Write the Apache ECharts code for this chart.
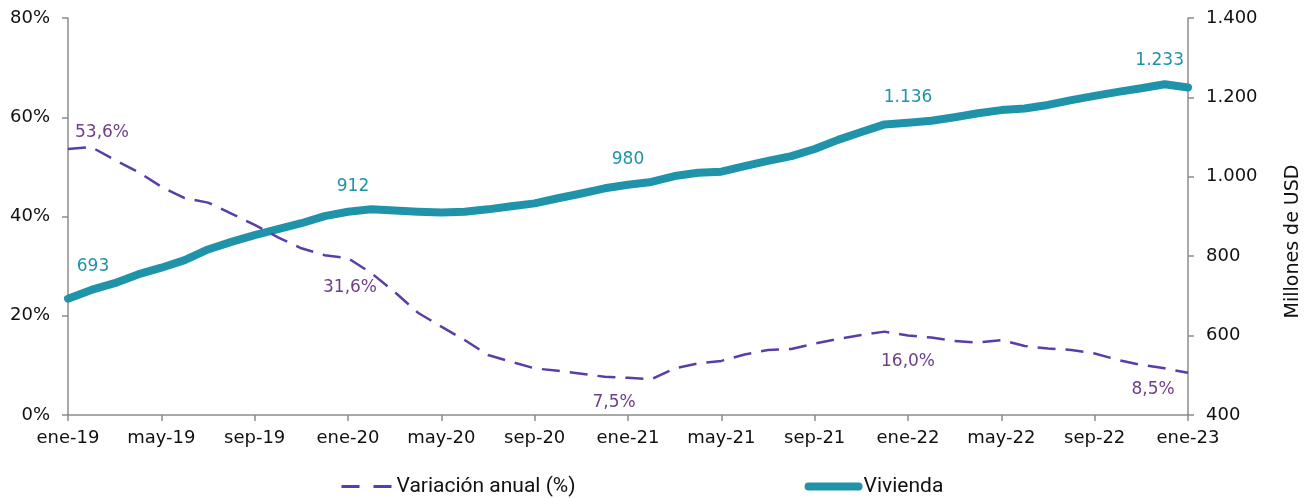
<!DOCTYPE html>
<html>
<head>
<meta charset="utf-8">
<script src="https://cdn.jsdelivr.net/npm/echarts@6/dist/echarts.min.js"></script>
<style>
  html, body { margin: 0; padding: 0; background: #fff; }
  #chart { width: 1316px; height: 498px; }
</style>
</head>
<body>
<div id="chart"></div>
<script>
// Months from ene-19 to ene-23
const monthNames = ['ene','feb','mar','abr','may','jun','jul','ago','sep','oct','nov','dic'];
const categories = [];
for (let y = 19; y <= 23; y++) {
  for (let m = 0; m < 12; m++) {
    if (y === 23 && m > 0) break;
    categories.push(monthNames[m] + '-' + y);
  }
}

// Vivienda, millones de USD (right axis)
const vivienda = [
  693, 715, 732, 754, 771, 790, 817, 836, 853, 868, 883, 901,
  912, 918, 915, 912, 910, 912, 918, 926, 933, 946, 958, 971,
  980, 987, 1002, 1010, 1013, 1027, 1040, 1052, 1070, 1093, 1113, 1132,
  1136, 1141, 1150, 1160, 1168, 1172, 1181, 1193, 1204, 1214, 1223, 1233,
  1225
];

// Variación anual, % (left axis)
const variacion = [
  53.6, 54.0, 51.4, 49.0, 46.0, 43.7, 42.8, 40.6, 38.3, 35.8, 33.6, 32.2,
  31.6, 28.6, 24.8, 20.6, 17.8, 15.1, 12.1, 10.7, 9.4, 8.9, 8.3, 7.7,
  7.5, 7.2, 9.4, 10.4, 10.9, 12.2, 13.1, 13.3, 14.4, 15.3, 16.1, 16.8,
  16.0, 15.6, 14.9, 14.6, 15.1, 13.9, 13.4, 13.1, 12.4, 11.1, 10.1, 9.4,
  8.5
];

// Points that carry a value label
const viviendaLabeled = [0, 12, 24, 36, 47];
const variacionLabeled = [0, 12, 24, 36, 48];

// Label offsets (px) relative to the point
const viviendaOffsets = { 0: [25, -32], 12: [5, -25], 24: [0, -25], 36: [0, -25], 47: [-5, -24] };
const variacionOffsets = { 0: [34, -16], 12: [2, 29], 24: [-14, 25], 36: [0, 26], 48: [-35, 17] };

const TEAL = '#1e93a9';
const PURPLE = '#5a3da6';
const PURPLE_TEXT = '#6e3f88';
const AXIS_GRAY = '#8c8c8c';
const FONT = '"DejaVu Sans", sans-serif';

function fmtThousands(v) {
  return String(Math.round(v)).replace(/\B(?=(\d{3})+(?!\d))/g, '.');
}
function fmtPct(v) {
  return v.toFixed(1).replace('.', ',') + '%';
}

function buildData(values, labeled, offsets, color, fmt) {
  return values.map((v, i) => {
    if (labeled.indexOf(i) === -1) return v;
    return {
      value: v,
      label: {
        show: true,
        position: 'inside',
        offset: offsets[i],
        align: 'center',
        verticalAlign: 'middle',
        color: color,
        fontFamily: FONT,
        fontSize: 17,
        formatter: () => fmt(v)
      }
    };
  });
}

const chart = echarts.init(document.getElementById('chart'), null, { renderer: 'canvas' });

chart.setOption({
  animation: false,
  backgroundColor: '#ffffff',
  grid: { left: 68, right: 128, top: 18, bottom: 83, containLabel: false },
  legend: {
    bottom: 1,
    left: 340,
    padding: 0,
    itemWidth: 50,
    itemHeight: 10,
    itemGap: 229,
    textStyle: { fontFamily: 'Roboto, sans-serif', fontSize: 21, color: '#111' },
    data: [
      { name: 'Variación anual (%)', itemStyle: { color: PURPLE, opacity: 0 }, lineStyle: { color: PURPLE, width: 3, type: [18, 14] } },
      { name: 'Vivienda', itemStyle: { color: TEAL, opacity: 0 }, lineStyle: { color: TEAL, width: 8, cap: 'round' } }
    ]
  },
  xAxis: {
    type: 'category',
    data: categories,
    boundaryGap: false,
    axisLine: { lineStyle: { color: AXIS_GRAY, width: 1.5 } },
    axisTick: { interval: 3, length: 6, lineStyle: { color: AXIS_GRAY, width: 1.5 } },
    axisLabel: { interval: 3, margin: 14, color: '#111', fontFamily: FONT, fontSize: 18 },
    splitLine: { show: false }
  },
  yAxis: [
    {
      type: 'value',
      min: 0, max: 80, interval: 20,
      axisLine: { show: true, lineStyle: { color: AXIS_GRAY, width: 1.5 } },
      axisTick: { show: true, length: 6, lineStyle: { color: AXIS_GRAY, width: 1.5 } },
      axisLabel: { formatter: '{value}%', margin: 18, color: '#111', fontFamily: FONT, fontSize: 18 },
      splitLine: { show: false }
    },
    {
      type: 'value',
      position: 'right',
      min: 400, max: 1400, interval: 200,
      name: 'Millones de USD',
      nameLocation: 'middle',
      nameRotate: 90,
      nameGap: 96,
      nameTextStyle: { color: '#111', fontFamily: FONT, fontSize: 19, padding: [0, 50, 0, 0] },
      axisLine: { show: true, lineStyle: { color: AXIS_GRAY, width: 1.5 } },
      axisTick: { show: true, length: 6, lineStyle: { color: AXIS_GRAY, width: 1.5 } },
      axisLabel: { formatter: v => fmtThousands(v), margin: 18, color: '#111', fontFamily: FONT, fontSize: 18 },
      splitLine: { show: false }
    }
  ],
  series: [
    {
      name: 'Variación anual (%)',
      type: 'line',
      yAxisIndex: 0,
      data: buildData(variacion, variacionLabeled, variacionOffsets, PURPLE_TEXT, fmtPct),
      symbol: 'circle',
      symbolSize: 1,
      showSymbol: true,
      showAllSymbol: true,
      itemStyle: { color: 'rgba(0,0,0,0)', borderWidth: 0 },
      lineStyle: { color: PURPLE, width: 2.5, type: [18, 10] },
      z: 3
    },
    {
      name: 'Vivienda',
      type: 'line',
      yAxisIndex: 1,
      data: buildData(vivienda, viviendaLabeled, viviendaOffsets, TEAL, fmtThousands),
      symbol: 'circle',
      symbolSize: 1,
      showSymbol: true,
      showAllSymbol: true,
      itemStyle: { color: 'rgba(0,0,0,0)', borderWidth: 0 },
      lineStyle: { color: TEAL, width: 8, cap: 'round', join: 'round' },
      z: 2
    }
  ]
});
</script>
</body>
</html>
